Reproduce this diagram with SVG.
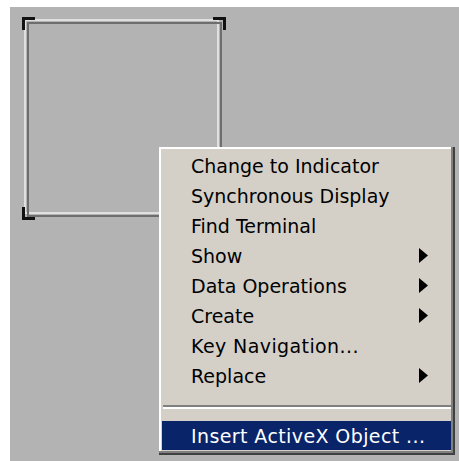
<svg xmlns="http://www.w3.org/2000/svg" width="459" height="461" viewBox="0 0 459 461">
  <style>
    .item { font-family: "DejaVu Sans", "Liberation Sans", sans-serif; font-size: 19px; fill: #000; }
    .wide { letter-spacing: 0.4px; }
    .sel { fill: #fff; }
    .bracket { fill: none; stroke: #111; stroke-width: 3; }
    .arrow { fill: #000; }
  </style>
  <rect x="0" y="0" width="459" height="461" fill="#fff"/>
  <rect x="10" y="7" width="449" height="454" fill="#b3b3b3"/>

  <!-- empty container frame -->
  <g id="frame">
    <rect x="25" y="20" width="193" height="193" fill="none" stroke="#e0e0e0" stroke-width="2"/>
    <rect x="28" y="23" width="193" height="193" fill="none" stroke="#6e6e6e" stroke-width="2"/>
    <path class="bracket" d="M23.5 30 V18.5 H35"/>
    <path class="bracket" d="M213 18.5 H224.5 V30"/>
    <path class="bracket" d="M23.5 207 V218.5 H35"/>
  </g>

  <!-- shortcut menu -->
  <g id="menu">
    <rect x="159" y="147" width="296" height="308" fill="#404040"/>
    <rect x="159" y="147" width="294" height="306" fill="#808080"/>
    <rect x="159" y="147" width="292" height="304" fill="#ffffff"/>
    <rect x="161" y="149" width="290" height="302" fill="#d4d0c8"/>
    <text class="item" x="191" y="173">Change to Indicator</text>
    <text class="item" x="191" y="203">Synchronous Display</text>
    <text class="item" x="191" y="233">Find Terminal</text>
    <text class="item" x="191" y="263">Show</text>
    <polygon class="arrow" points="419,248 428,255.5 419,263"/>
    <text class="item" x="191" y="293">Data Operations</text>
    <polygon class="arrow" points="419,278 428,285.5 419,293"/>
    <text class="item" x="191" y="323">Create</text>
    <polygon class="arrow" points="419,308 428,315.5 419,323"/>
    <text class="item wide" x="191" y="353">Key Navigation...</text>
    <text class="item" x="191" y="383">Replace</text>
    <polygon class="arrow" points="419,368 428,375.5 419,383"/>
    <rect x="163" y="405" width="288" height="2" fill="#808080"/>
    <rect x="163" y="407" width="288" height="2" fill="#ffffff"/>
    <rect x="162" y="421" width="289" height="29" fill="#0a246a"/>
    <text class="item sel wide" x="191" y="443">Insert ActiveX Object ...</text>
  </g>
</svg>
